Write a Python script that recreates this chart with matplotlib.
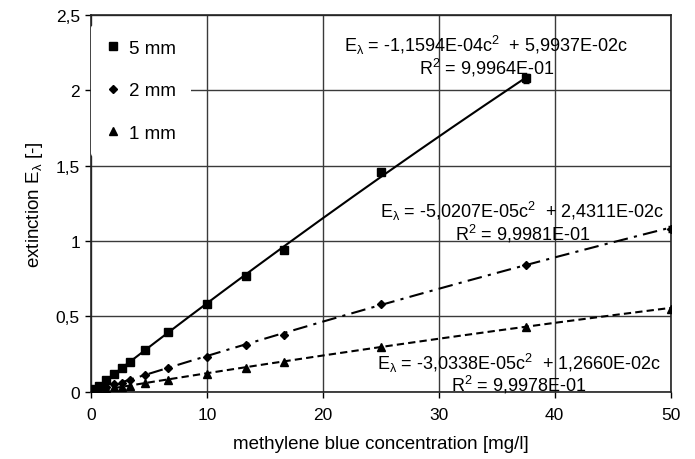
import numpy as np
import matplotlib.pyplot as plt

plt.rcParams['font.family'] = ['Liberation Sans', 'DejaVu Sans']
plt.rcParams['mathtext.fontset'] = 'custom'
plt.rcParams['mathtext.rm'] = 'Liberation Sans'
plt.rcParams['mathtext.it'] = 'Liberation Sans'

# measured extinction vs concentration, three cell lengths
c_5mm = [0.33, 0.67, 1.33, 2.0, 2.67, 3.33, 4.67, 6.67, 10.0, 13.33, 16.67, 25.0, 37.5]
e_5mm = [0.02, 0.04, 0.08, 0.12, 0.16, 0.20, 0.28, 0.40, 0.58, 0.77, 0.94, 1.46, 2.08]
err_5mm = [0, 0, 0, 0, 0, 0, 0, 0, 0, 0, 0, 0, 0.03]

c_2mm = [0.33, 0.67, 1.33, 2.0, 2.67, 3.33, 4.67, 6.67, 10.0, 13.33, 16.67, 25.0, 37.5, 50.0]
e_2mm = [0.01, 0.02, 0.03, 0.05, 0.06, 0.08, 0.11, 0.16, 0.23, 0.31, 0.38, 0.58, 0.84, 1.08]
err_2mm = [0, 0, 0, 0, 0, 0, 0, 0, 0, 0, 0, 0, 0, 0.02]

c_1mm = [0.33, 0.67, 1.33, 2.0, 2.67, 3.33, 4.67, 6.67, 10.0, 13.33, 16.67, 25.0, 37.5, 50.0]
e_1mm = [0.005, 0.01, 0.02, 0.03, 0.035, 0.04, 0.06, 0.08, 0.12, 0.16, 0.20, 0.30, 0.43, 0.55]

# quadratic fit coefficients (a*c^2 + b*c)
fit_5mm = (-1.1594e-04, 5.9937e-02)
fit_2mm = (-5.0207e-05, 2.4311e-02)
fit_1mm = (-3.0338e-05, 1.2660e-02)
r2 = ['9,9964E-01', '9,9981E-01', '9,9978E-01']

fig = plt.figure(figsize=(6.95, 4.6), dpi=100)
ax = fig.add_axes([0.131, 0.146, 0.834, 0.819])

cc = np.linspace(0, 37.5, 200)
ax.plot(cc, fit_5mm[0]*cc**2 + fit_5mm[1]*cc, color='black', lw=1.5, ls='-', zorder=3)
cc = np.linspace(0, 50, 200)
ax.plot(cc, fit_2mm[0]*cc**2 + fit_2mm[1]*cc, color='black', lw=1.5,
        dashes=(7, 3, 1.5, 3), zorder=3)
ax.plot(cc, fit_1mm[0]*cc**2 + fit_1mm[1]*cc, color='black', lw=1.5,
        dashes=(3.5, 2), zorder=3)

ax.errorbar(c_5mm, e_5mm, yerr=err_5mm, fmt='none', ecolor='black',
            elinewidth=1, capsize=2, zorder=4)
ax.errorbar(c_2mm, e_2mm, yerr=err_2mm, fmt='none', ecolor='black',
            elinewidth=1, capsize=2, zorder=4)
h5, = ax.plot(c_5mm, e_5mm, 's', ms=6, color='black', ls='none', label='5 mm', zorder=4)
h2, = ax.plot(c_2mm, e_2mm, 'D', ms=4, color='black', ls='none', label='2 mm', zorder=4)
h1, = ax.plot(c_1mm, e_1mm, '^', ms=5.5, color='black', ls='none', label='1 mm', zorder=4)

ax.set_xlim(0, 50)
ax.set_ylim(0, 2.5)
ax.set_xticks(np.arange(0, 51, 10))
ax.set_yticks(np.arange(0, 2.51, 0.5))
ax.set_yticklabels(['0', '0,5', '1', '1,5', '2', '2,5'])
ax.tick_params(labelsize=12.5, length=4, width=1, direction='out', pad=4)
ax.tick_params(axis='x', pad=7)
ax.grid(True, color='#3a3a3a', lw=1)
ax.set_axisbelow(True)
for s in ax.spines.values():
    s.set_linewidth(1.2)
    s.set_color('#222222')

ax.set_xlabel('methylene blue concentration [mg/l]', fontsize=13.5, labelpad=9)
ax.set_ylabel(r'extinction E$_\lambda$ [-]', fontsize=13.5, labelpad=8)

leg = ax.legend(handles=[h5, h2, h1], loc='upper left', bbox_to_anchor=(0.0, 0.975),
                fontsize=13.5, frameon=True, edgecolor='none', facecolor='white',
                framealpha=1, handlelength=0.7, handletextpad=0.5,
                labelspacing=1.35, borderaxespad=0.0, borderpad=0.8)
leg.set_zorder(5)

fs = 13
ax.text(34.1, 2.232, r'E$_\lambda$ = -1,1594E-04c$^2$  + 5,9937E-02c' + '\n'
        + r'R$^2$ = ' + r2[0], ha='center', va='center', multialignment='center',
        fontsize=fs, linespacing=0.95, zorder=6)
ax.text(37.2, 1.13, r'E$_\lambda$ = -5,0207E-05c$^2$  + 2,4311E-02c' + '\n'
        + r'R$^2$ = ' + r2[1], ha='center', va='center', multialignment='center',
        fontsize=fs, linespacing=0.95, zorder=6)
ax.text(36.9, 0.126, r'E$_\lambda$ = -3,0338E-05c$^2$  + 1,2660E-02c' + '\n'
        + r'R$^2$ = ' + r2[2], ha='center', va='center', multialignment='center',
        fontsize=fs, linespacing=0.95, zorder=6)

fig.savefig('out.png', dpi=100)
